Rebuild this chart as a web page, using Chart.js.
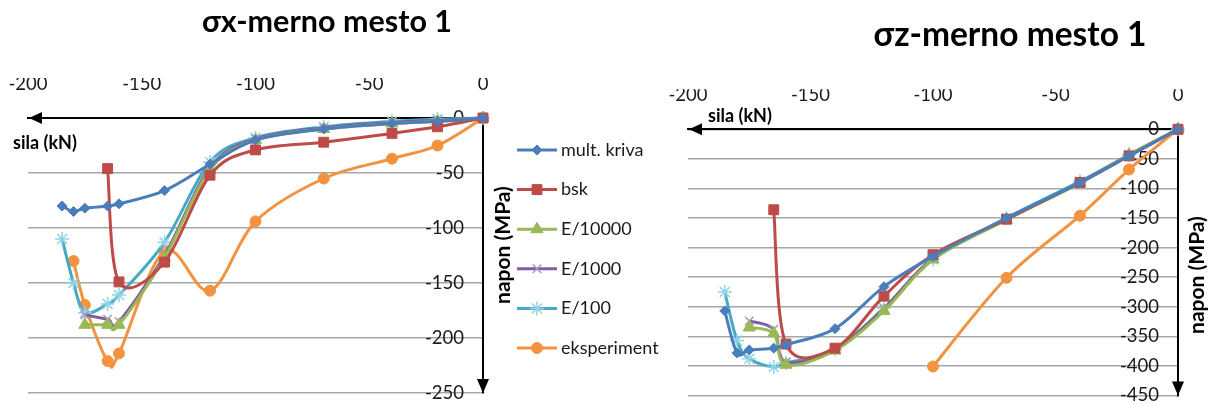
<!DOCTYPE html>
<html>
<head>
<meta charset="utf-8">
<script src="https://cdn.jsdelivr.net/npm/chart.js@4.4.1/dist/chart.umd.min.js"></script>
<style>
  html, body { margin: 0; padding: 0; background: #fff; }
  #wrap { position: relative; width: 1208px; height: 404px; overflow: hidden; }
  #chartX { position: absolute; left: 0; top: 0; }
  #chartZ { position: absolute; left: 664px; top: 0; }
</style>
</head>
<body>
<div id="wrap">
  <canvas id="chartX" width="664" height="404"></canvas>
  <canvas id="chartZ" width="544" height="404"></canvas>
</div>
<script>
// nazivi serija
const seriesNames = ['mult. kriva', 'bsk', 'E/10000', 'E/1000', 'E/100', 'eksperiment'];

// podeoci osa
const xTicks = [-200, -150, -100, -50, 0];
const sxYTicks = [0, -50, -100, -150, -200, -250];
const szYTicks = [0, -50, -100, -150, -200, -250, -300, -350, -400, -450];

// σx - merno mesto 1 (sila kN / napon MPa)
const sxMultX = [-185, -180, -175, -165, -160, -140, -120, -100, -70, -40, -20, 0];
const sxMultY = [-80, -85, -82, -80, -78, -66, -42, -20, -10, -5, -3, 0];
const sxBskX = [-165, -160, -140, -120, -100, -70, -40, -20, 0];
const sxBskY = [-46, -149, -131, -52, -29, -22, -14, -8, 0];
const sxE4X = [-175, -165, -160, -140, -120, -100, -70, -40, -20, 0];
const sxE4Y = [-188, -188, -188, -127, -47, -20, -10, -5, -3, 0];
const sxE3X = [-175, -165, -160, -140, -120, -100, -70, -40, -20, 0];
const sxE3Y = [-179, -183, -185, -125, -45, -19, -9, -4, -2, 0];
const sxE2X = [-185, -180, -175, -165, -160, -140, -120, -100, -70, -40, -20, 0];
const sxE2Y = [-110, -150, -177, -169, -161, -113, -40, -18, -8, -3, -1, 0];
const sxExpX = [-180, -175, -165, -160, -140, -120, -100, -70, -40, -20, 0];
const sxExpY = [-130, -170, -221, -214, -121, -157, -94, -55, -37, -25, 0];

// σz - merno mesto 1
const szMultX = [-185, -180, -175, -165, -160, -140, -120, -100, -70, -40, -20, 0];
const szMultY = [-307, -378, -373, -370, -364, -337, -266, -215, -150, -90, -45, 0];
const szBskX = [-165, -160, -140, -120, -100, -70, -40, -20, 0];
const szBskY = [-136, -363, -370, -282, -212, -152, -90, -45, 0];
const szE4X = [-175, -165, -160, -140, -120, -100, -70, -40, -20, 0];
const szE4Y = [-335, -345, -398, -374, -307, -220, -153, -91, -43, 0];
const szE3X = [-175, -165, -160, -140, -120, -100, -70, -40, -20, 0];
const szE3Y = [-324, -338, -393, -372, -303, -218, -152, -90, -44, 0];
const szE2X = [-185, -180, -175, -165, -160, -140, -120, -100, -70, -40, -20, 0];
const szE2Y = [-275, -357, -388, -402, -395, -372, -302, -220, -150, -88, -43, 0];
const szExpX = [-100, -70, -40, -20, 0];
const szExpY = [-401, -251, -146, -68, 0];

const FONT = 'Lato, "Open Sans", sans-serif';
const TEXT = '#1a1a1a';
const TICK_SIZE = 18.5;

// izgled serija (Excel 2007 paleta)
const seriesStyle = [
  { color: '#4a7ebb', marker: '#4a7ebb', pointStyle: 'rectRot', radius: 5, mw: 1 },
  { color: '#be4b48', marker: '#be4b48', pointStyle: 'rect', radius: 7, mw: 1 },
  { color: '#98b954', marker: '#98b954', pointStyle: 'triangle', radius: 7, mw: 1 },
  { color: '#7d60a0', marker: '#a995c9', pointStyle: 'crossRot', radius: 6, mw: 1.5 },
  { color: '#46aac5', marker: '#8fd3e8', pointStyle: 'star', radius: 7, mw: 1.5 },
  { color: '#f3923f', marker: '#f3923f', pointStyle: 'circle', radius: 5.5, mw: 1 }
];

function buildDatasets(xs, ys) {
  return seriesNames.map((name, i) => {
    const s = seriesStyle[i];
    return {
      label: name,
      data: xs[i].map((x, j) => ({ x: x, y: ys[i][j] })),
      borderColor: s.color,
      backgroundColor: s.marker,
      borderWidth: 3,
      tension: 0.4,
      pointStyle: s.pointStyle,
      pointRadius: s.radius,
      pointBorderColor: s.marker,
      pointBackgroundColor: s.marker,
      pointBorderWidth: s.mw,
      clip: false
    };
  });
}

// Excel-ovo zaglađivanje: uniformni Catmull-Rom (1/6) umesto Chart.js težinskog
const excelSmooth = {
  id: 'excelSmooth',
  beforeDatasetDraw(chart, args) {
    const meta = args.meta;
    const line = meta.dataset;
    if (!line) return;
    line.updateControlPoints(chart.chartArea, meta.iScale.axis);
    const pts = meta.data;
    const n = pts.length;
    for (let i = 0; i < n; i++) {
      const p = pts[i];
      const prev = pts[Math.max(i - 1, 0)];
      const next = pts[Math.min(i + 1, n - 1)];
      const dx = (next.x - prev.x) / 6;
      const dy = (next.y - prev.y) / 6;
      p.cp1x = p.x - dx; p.cp1y = p.y - dy;
      p.cp2x = p.x + dx; p.cp2y = p.y + dy;
    }
  }
};

// ose, strelice, naslovi i legenda
function sketchPlugin(opt) {
  return {
    id: 'sketch',
    beforeDatasetsDraw(chart) {
      const { ctx, chartArea: a } = chart;
      const ys = chart.scales.y;
      ctx.save();
      ctx.font = TICK_SIZE + 'px ' + FONT;
      ctx.fillStyle = TEXT;
      ctx.textAlign = 'right';
      ctx.textBaseline = 'middle';
      opt.yTicks.forEach(v => ctx.fillText(String(v), a.right - 19, ys.getPixelForValue(v)));
      ctx.restore();
    },
    afterDraw(chart) {
      const { ctx, chartArea: a } = chart;
      ctx.save();
      ctx.fillStyle = '#000';
      // strelica sila (levo)
      ctx.beginPath();
      ctx.moveTo(a.left + 1, a.top);
      ctx.lineTo(a.left + 14, a.top - 6);
      ctx.lineTo(a.left + 14, a.top + 6);
      ctx.closePath();
      ctx.fill();
      // strelica napon (dole)
      ctx.beginPath();
      ctx.moveTo(a.right, a.bottom);
      ctx.lineTo(a.right - 6, a.bottom - 14);
      ctx.lineTo(a.right + 6, a.bottom - 14);
      ctx.closePath();
      ctx.fill();

      ctx.font = 'bold ' + opt.titleSize + 'px ' + FONT;
      ctx.textAlign = 'center';
      ctx.textBaseline = 'middle';
      ctx.fillText(opt.title, opt.titleX, opt.titleY);

      ctx.font = 'bold 18px ' + FONT;
      ctx.textAlign = 'left';
      ctx.fillText('sila (kN)', opt.silaX, opt.silaY);

      ctx.save();
      ctx.translate(opt.naponX, opt.naponY);
      ctx.rotate(-Math.PI / 2);
      ctx.font = 'bold 21px ' + FONT;
      ctx.textAlign = 'center';
      ctx.fillText('napon (MPa)', 0, 0);
      ctx.restore();

      if (opt.legend) {
        const L = opt.legend;
        chart.data.datasets.forEach((ds, i) => {
          const y = L.y + i * L.step;
          ctx.strokeStyle = ds.borderColor;
          ctx.lineWidth = 3;
          ctx.beginPath();
          ctx.moveTo(L.x, y);
          ctx.lineTo(L.x + 40, y);
          ctx.stroke();
          ctx.fillStyle = ds.pointBackgroundColor;
          ctx.strokeStyle = ds.pointBorderColor;
          ctx.lineWidth = ds.pointBorderWidth;
          Chart.helpers.drawPoint(ctx, { pointStyle: ds.pointStyle, radius: ds.pointRadius, borderWidth: ds.pointBorderWidth, rotation: 0 }, L.x + 20, y);
          ctx.fillStyle = TEXT;
          ctx.font = '18px ' + FONT;
          ctx.textAlign = 'left';
          ctx.textBaseline = 'middle';
          ctx.fillText(ds.label, L.x + 44, y);
        });
      }
      ctx.restore();
    }
  };
}

function makeChart(id, datasets, yTicks, yMin, padding, opt) {
  return new Chart(document.getElementById(id), {
    type: 'line',
    data: { datasets: datasets },
    options: {
      responsive: false,
      animation: false,
      layout: { padding: padding },
      plugins: { legend: { display: false }, tooltip: { enabled: false } },
      scales: {
        x: {
          type: 'linear',
          position: 'top',
          min: -200,
          max: 0,
          afterBuildTicks: s => { s.ticks = xTicks.map(v => ({ value: v })); },
          afterFit: s => { s.height = 40; s.paddingLeft = 0; s.paddingRight = 0; },
          grid: { display: false, drawTicks: false },
          border: { display: true, color: '#000', width: 2 },
          ticks: { padding: 23, maxRotation: 0, color: TEXT, font: { family: FONT, size: TICK_SIZE } }
        },
        y: {
          type: 'linear',
          position: 'right',
          min: yMin,
          max: 0,
          afterBuildTicks: s => { s.ticks = yTicks.map(v => ({ value: v })); },
          afterFit: s => { s.width = 0; s.paddingTop = 0; s.paddingBottom = 0; },
          grid: { color: '#a6a6a6', lineWidth: 1.5, drawTicks: false },
          border: { display: true, color: '#000', width: 2 },
          ticks: { display: false }
        }
      }
    },
    plugins: [excelSmooth, sketchPlugin(Object.assign({ yTicks: yTicks }, opt))]
  });
}

makeChart('chartX',
  buildDatasets([sxMultX, sxBskX, sxE4X, sxE3X, sxE2X, sxExpX], [sxMultY, sxBskY, sxE4Y, sxE3Y, sxE2Y, sxExpY]),
  sxYTicks, -250,
  { left: 28, right: 181, top: 78, bottom: 11 },
  { title: 'σx-merno mesto 1', titleSize: 30.5, titleX: 327, titleY: 22,
    silaX: 13, silaY: 143, naponX: 503, naponY: 245,
    legend: { x: 517, y: 150, step: 39.6 } });

makeChart('chartZ',
  buildDatasets([szMultX, szBskX, szE4X, szE3X, szE2X, szExpX], [szMultY, szBskY, szE4Y, szE3Y, szE2Y, szExpY]),
  szYTicks, -450,
  { left: 24, right: 30, top: 89.3, bottom: 7.3 },
  { title: 'σz-merno mesto 1', titleSize: 33.5, titleX: 346, titleY: 35,
    silaX: 44, silaY: 116, naponX: 533, naponY: 275 });
</script>
</body>
</html>
